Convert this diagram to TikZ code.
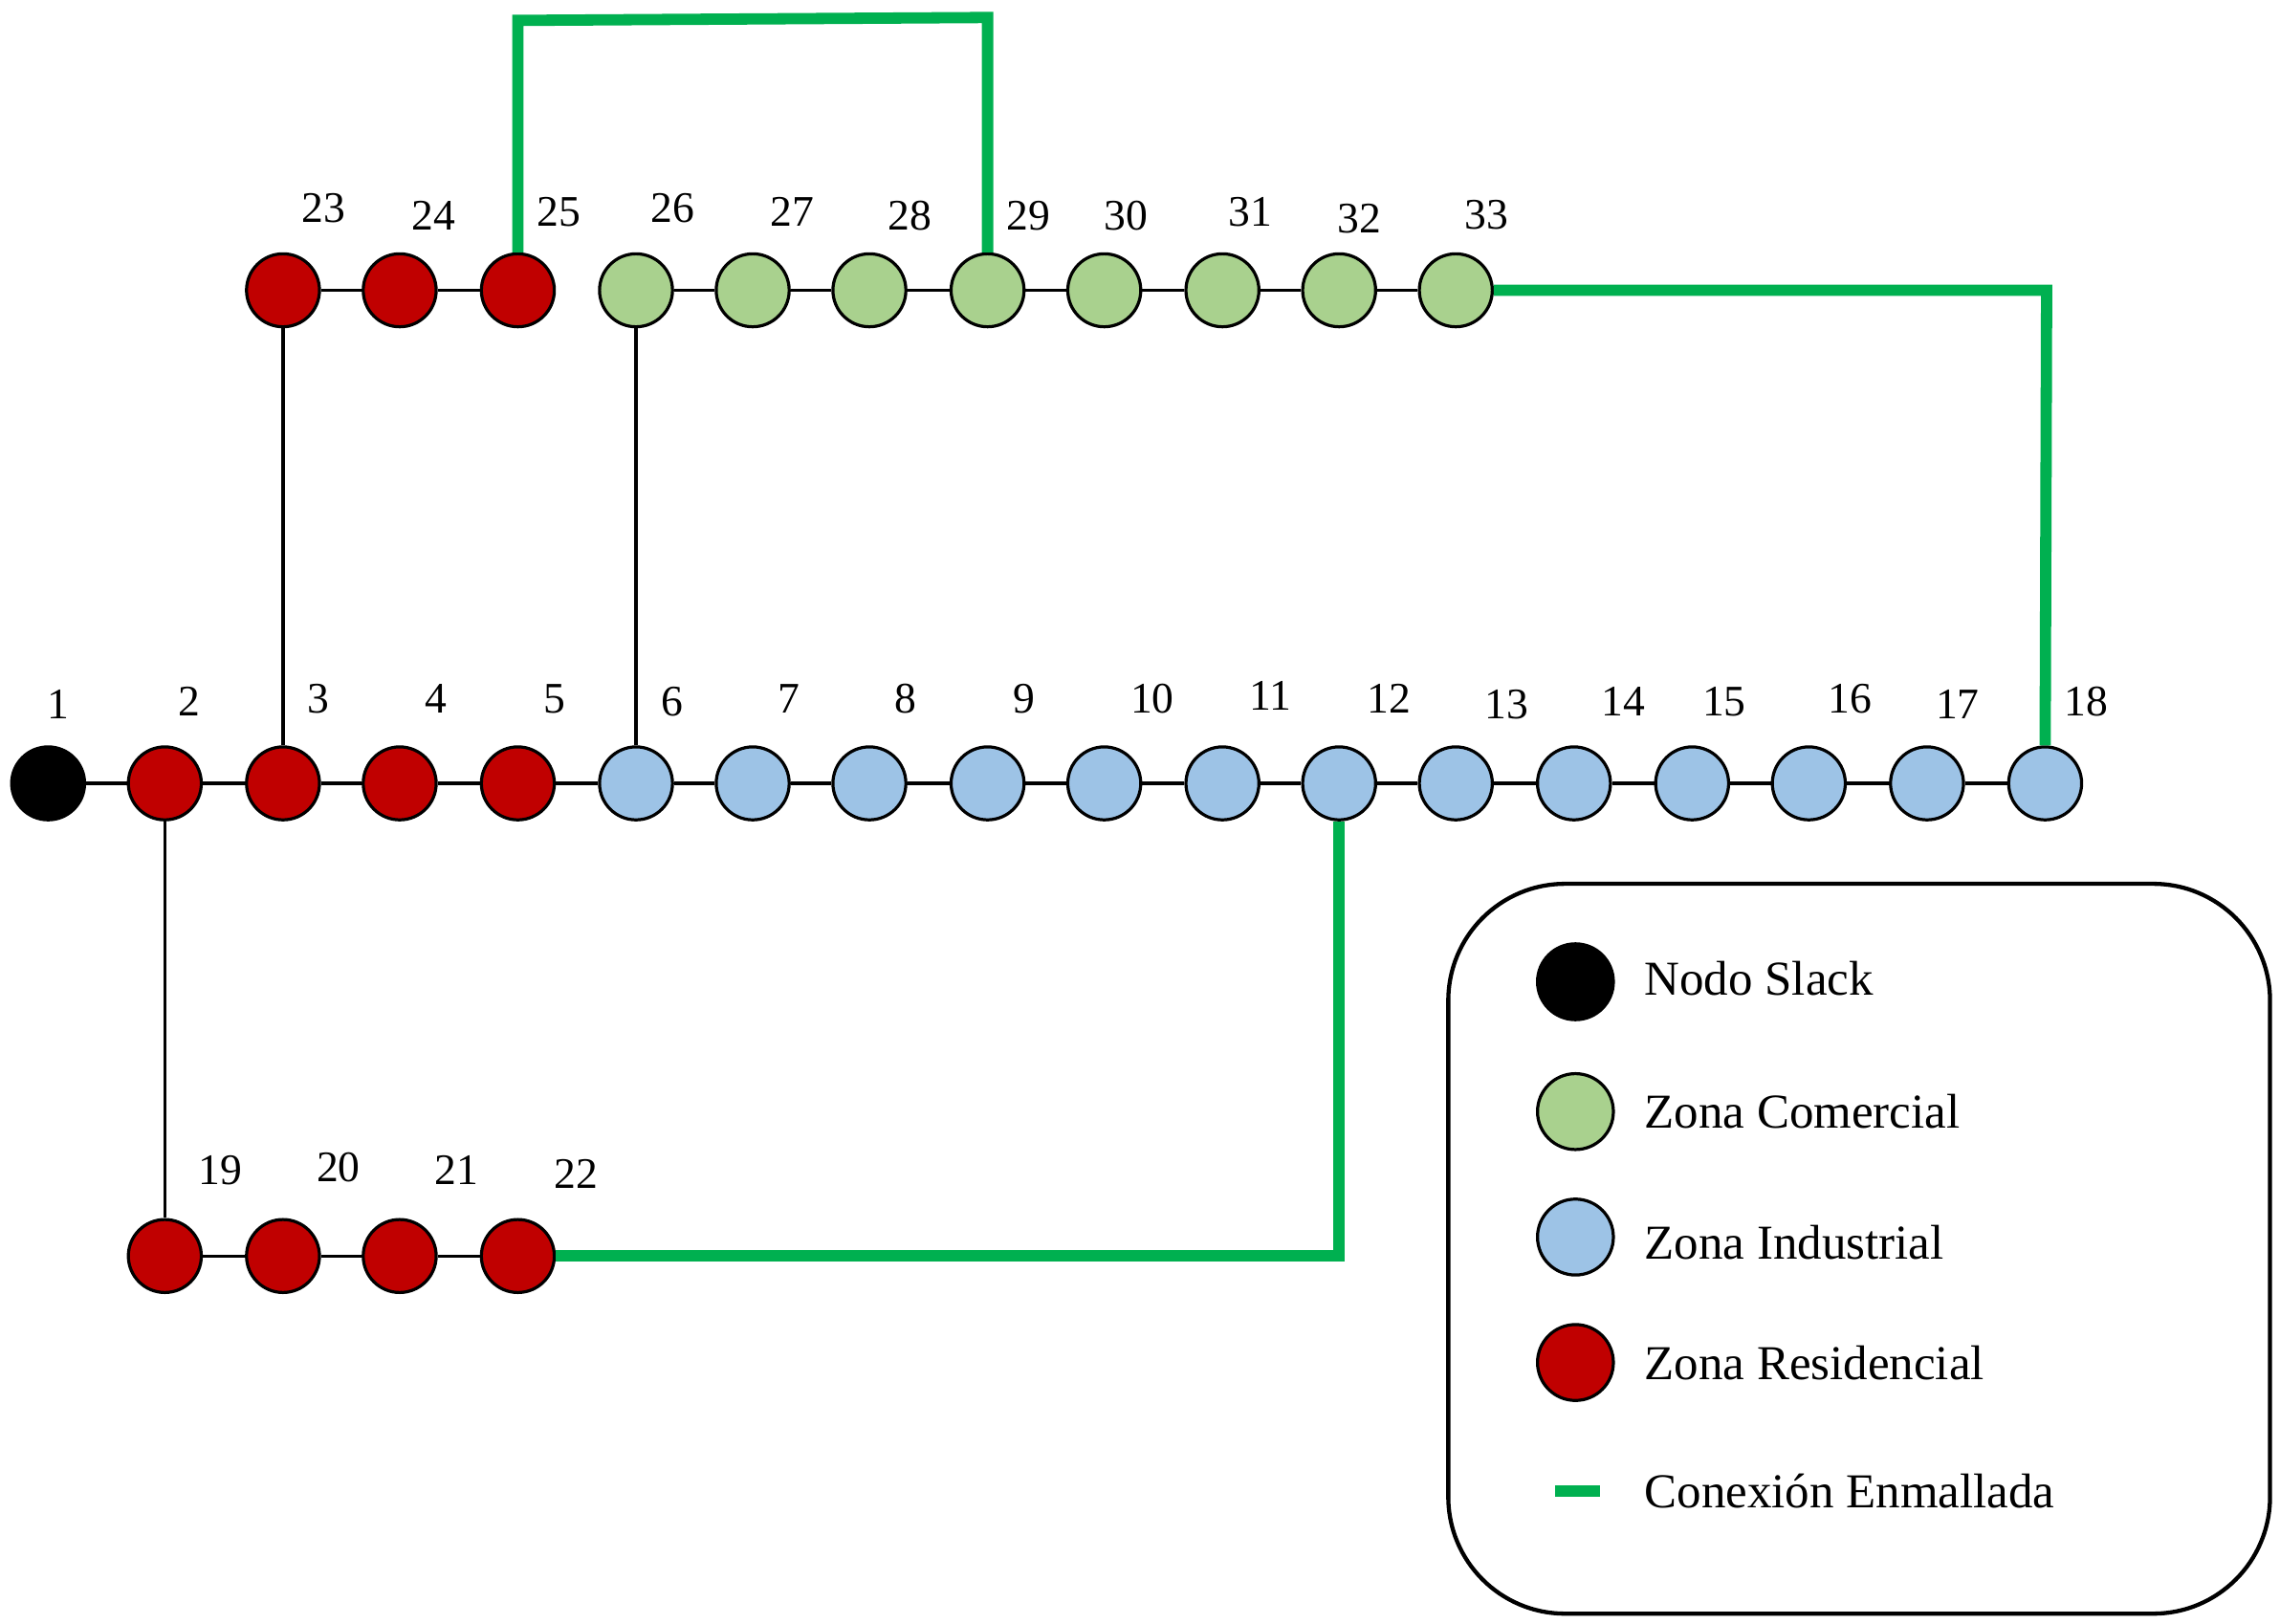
\documentclass[tikz,border=0pt]{standalone}
\usepackage{fontspec}
\setmainfont{Liberation Serif}
\begin{document}
\begin{tikzpicture}[x=0.01cm,y=-0.01cm,
  bus/.style={circle,draw=black,line width=0.6pt,minimum size=0.5cm,inner sep=0pt},
  S/.style={bus,fill=black},
  R/.style={bus,fill=red!75!black},
  C/.style={bus,fill=green!35!lime!30!olive!30!white},
  I/.style={bus,fill=cyan!25!blue!20!white},
  lbl/.style={font=\fontsize{8.5}{10}\selectfont},
  leg/.style={font=\fontsize{9.5}{11}\selectfont,anchor=west},
  line/.style={line width=0.6pt},
  mesh/.style={draw=green!70!black,line width=2.2pt}]
\useasboundingbox (0,0) rectangle (1563,1113);
\colorlet{cg}{green!35!lime!30!olive!30!white}
\definecolor{cR}{HTML}{C00000}
\definecolor{cC}{HTML}{A9D18E}
\definecolor{cI}{HTML}{9DC3E6}
\definecolor{cM}{HTML}{00B050}
\tikzset{R/.style={bus,fill=cR},C/.style={bus,fill=cC},I/.style={bus,fill=cI},mesh/.style={draw=cM,line width=2.2pt}}
% main row
\foreach \n/\x/\s/\lx/\ly in {1/33/S/40/483,2/113/R/130/481,3/194/R/218/479,4/274/R/299/479,5/355/R/380/479,
  6/436/I/461/481,7/516/I/541/479,8/596/I/621/479,9/677/I/702/479,10/757/I/790/479,11/838/I/871/477,
  12/918/I/952/479,13/998/I/1033/483,14/1079/I/1113/481,15/1160/I/1182/481,16/1240/I/1268/479,17/1321/I/1342/483,18/1402/I/1430/481}
  {\node[\s] (n\n) at (\x,537) {}; \node[lbl] (l\n) at (\lx,\ly) {\n};}
% top row
\foreach \n/\x/\s/\lx/\ly in {23/194/R/222/143,24/274/R/297/148,25/355/R/383/145,26/436/C/461/143,27/516/C/543/145,
  28/596/C/624/148,29/677/C/705/148,30/757/C/772/148,31/838/C/857/145,32/918/C/932/150,33/998/C/1019/147}
  {\node[\s] (n\n) at (\x,199) {}; \node[lbl] (l\n) at (\lx,\ly) {\n};}
% bottom row
\foreach \n/\x/\lx/\ly in {19/113/151/802,20/194/232/800,21/274/313/802,22/355/395/805}
  {\node[R] (n\n) at (\x,861) {}; \node[lbl] (l\n) at (\lx,\ly) {\n};}
% connections
\foreach \a/\b in {1/2,2/3,3/4,4/5,5/6,6/7,7/8,8/9,9/10,10/11,11/12,12/13,13/14,14/15,15/16,16/17,17/18,
  23/24,24/25,26/27,27/28,28/29,29/30,30/31,31/32,32/33,19/20,20/21,21/22,2/19,3/23,6/26}
  {\draw[line] (n\a) -- (n\b);}
% meshed
\coordinate (a1) at (352,14); \coordinate (a2) at (677,12);
\draw[mesh] (n25.north) -- (n25.north |- a1) -- (a2) -- (n29.north);
\coordinate (b1) at (1403,199);
\draw[mesh] (n33.east) -- (b1) -- (n18.north);
\coordinate (c1) at (918,861);
\draw[mesh] (n12.south) -- (c1) -- (n22.east);
% legend
\node[draw=black,line width=0.8pt,rounded corners=0.8cm,minimum width=5.63cm,minimum height=5cm] (box) at (1274.5,856) {};
\node[S,minimum size=0.52cm] (k1) at (1080,673) {};
\node[C,minimum size=0.52cm] (k2) at (1080,762) {};
\node[I,minimum size=0.52cm] (k3) at (1080,848) {};
\node[R,minimum size=0.52cm] (k4) at (1080,934) {};
\coordinate (k5a) at (1066,1022); \coordinate (k5b) at (1097,1022);
\draw[mesh] (k5a) -- (k5b);
\node[leg] (t1) at (1115,671) {Nodo Slack};
\node[leg] (t2) at (1115,762) {Zona Comercial};
\node[leg] (t3) at (1115,852) {Zona Industrial};
\node[leg] (t4) at (1115,934) {Zona Residencial};
\node[leg] (t5) at (1115,1022) {Conexión Enmallada};
\end{tikzpicture}
\end{document}
